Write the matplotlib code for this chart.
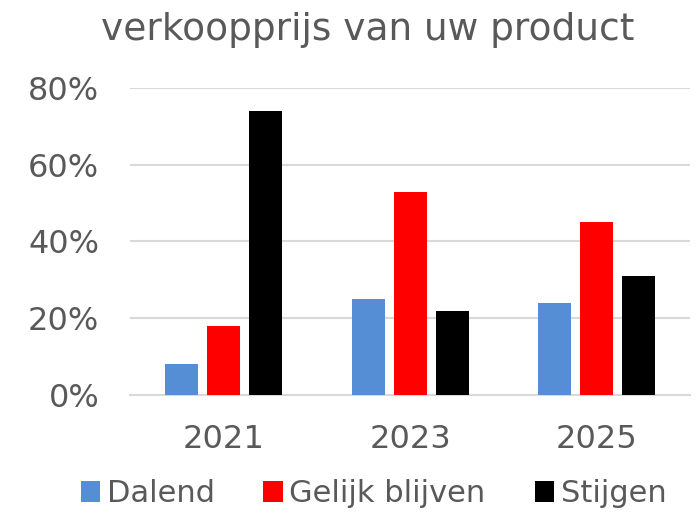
import matplotlib.pyplot as plt
import numpy as np

# categories and series (fractions)
years = ['2021', '2023', '2025']
dalend = [0.08, 0.25, 0.24]
gelijk = [0.18, 0.53, 0.45]
stijgen = [0.74, 0.22, 0.31]

grey = '#595959'
x = np.arange(len(years))
w = 0.177
step = 0.225

fig = plt.figure(figsize=(6.98, 5.17), dpi=100)
ax = fig.add_axes([0.186, 0.236, 0.803, 0.594])

ax.bar(x - step, dalend, w, color='#558ED5', label='Dalend', zorder=3)
ax.bar(x, gelijk, w, color='#FF0000', label='Gelijk blijven', zorder=3)
ax.bar(x + step, stijgen, w, color='#000000', label='Stijgen', zorder=3)

ax.set_xlim(-0.5, 2.5)
ax.set_ylim(0, 0.8)
ax.set_yticks([0, 0.2, 0.4, 0.6, 0.8])
ax.set_yticklabels(['0%', '20%', '40%', '60%', '80%'])
ax.set_xticks(x)
ax.set_xticklabels(years)
ax.tick_params(axis='both', length=0, labelsize=23, colors=grey)
ax.tick_params(axis='y', pad=22)
ax.tick_params(axis='x', pad=21)
ax.grid(axis='y', color='#D9D9D9', linewidth=1.5, zorder=0)
for s in ['top', 'right', 'left']:
    ax.spines[s].set_visible(False)
ax.spines['bottom'].set_color('#D9D9D9')
ax.spines['bottom'].set_linewidth(1.5)

fig.text(0.527, 0.942, 'verkoopprijs van uw product', ha='center', va='center',
         fontsize=27, color=grey)

fig.legend(loc='center', bbox_to_anchor=(0.535, 0.045), ncol=3, frameon=False,
           fontsize=22, labelcolor=grey, handlelength=0.65, handleheight=0.65,
           handletextpad=0.2, columnspacing=1.6)

fig.savefig('out.png', dpi=100)
